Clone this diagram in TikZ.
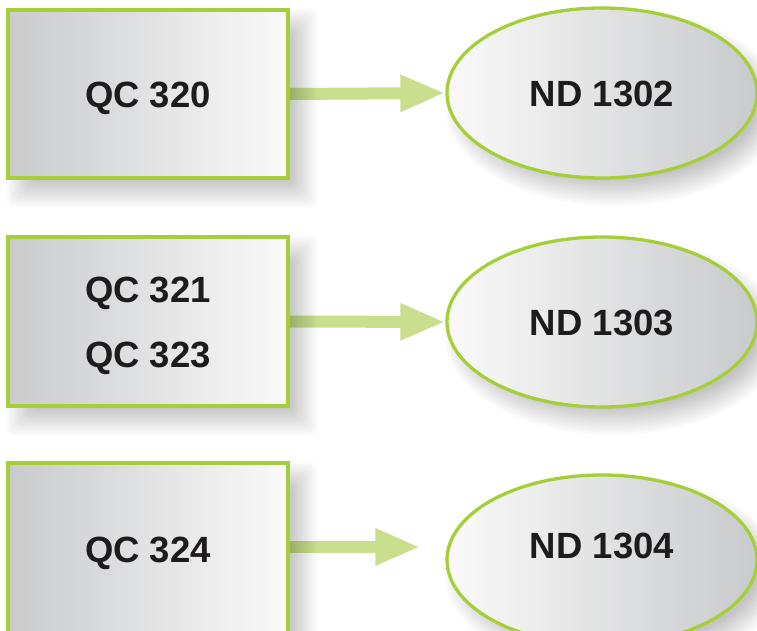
\documentclass[tikz,border=0pt]{standalone}
\usepackage{fontspec}
\setmainfont{Liberation Sans}
\usetikzlibrary{arrows.meta,shapes.geometric,backgrounds}
\definecolor{limeline}{HTML}{A6CE39}
\definecolor{arrowgreen}{HTML}{C9DF8E}
\definecolor{grayA}{HTML}{C9CACC}
\definecolor{grayB}{HTML}{FAFAFA}
\definecolor{inktext}{HTML}{1E1B1C}
\tikzset{
  qtext/.style={text=inktext, font=\fontsize{36.5}{65}\selectfont\bfseries, align=center},
  qbox/.style={draw=limeline, line width=3.3pt, rectangle, minimum width=280pt, inner sep=0pt,
    shading=axis, left color=grayA, right color=grayB},
  ndell/.style={draw=limeline, line width=3.3pt, ellipse, minimum width=310pt, minimum height=170pt, inner sep=0pt,
    shading=axis, left color=grayB, right color=grayA},
  bigarrow/.style={line width=12pt, arrowgreen, -{Triangle[length=45pt,width=34pt]}},
  softshade/.style={fill=black, opacity=0.02, rounded corners=6pt}
}
\begin{document}
\begin{tikzpicture}[x=1pt,y=-1pt]
\useasboundingbox (0,0) rectangle (757,631);
% boxes
\node[qbox, minimum height=168pt, label={[qtext, yshift=-4pt]center:QC 320}] (b1) at (148,94) {};
\node[qbox, minimum height=169pt, label={[qtext, yshift=-4pt]center:QC 321\\QC 323}] (b2) at (148,321.5) {};
\node[qbox, minimum height=178pt, label={[qtext, yshift=-1pt]center:QC 324}] (b3) at (148,552) {};
% ellipses
\node[ndell, label={[qtext, yshift=-1pt]center:ND 1302}] (e1) at (602,93) {};
\node[ndell, label={[qtext, yshift=-1pt]center:ND 1303}] (e2) at (602,322) {};
\node[ndell, label={[qtext, yshift=14pt]center:ND 1304}] (e3) at (602,560) {};
\begin{scope}[on background layer]
  \fill[white] (0,0) rectangle (757,631);
  \draw[bigarrow] (b1.east) -- (e1.west);
  \draw[bigarrow] (b2.east) -- (e2.west);
  \draw[bigarrow, shorten >=25pt] (b3.east |- 0,547) -- (e3.west |- 0,547);
  \foreach \n in {b1,b2,b3}{
    \foreach \i in {0,...,11}{
      \pgfmathsetmacro\d{-14+2.5*\i}
      \fill[softshade] ([shift={(14-\d,14-\d)}]\n.north west) rectangle ([shift={(14+\d,14+\d)}]\n.south east);
    }
  }
  \foreach \n in {e1,e2,e3}{
    \foreach \i in {0,...,11}{
      \pgfmathsetmacro\d{-14+2.5*\i}
      \fill[softshade] ([shift={(12,14)}]\n.center) ellipse [x radius={155-\d}, y radius={85-\d}];
    }
  }
\end{scope}
\end{tikzpicture}
\end{document}
